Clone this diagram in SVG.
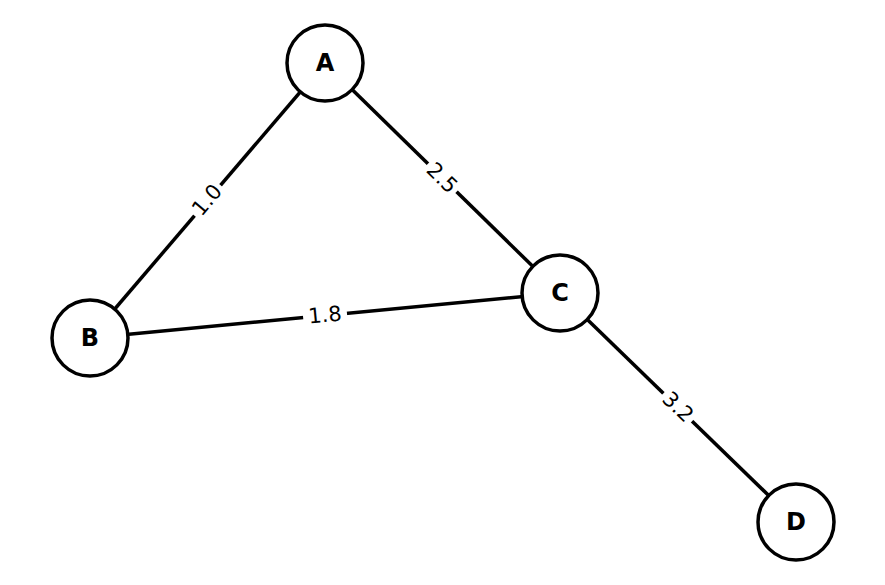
<svg xmlns="http://www.w3.org/2000/svg" width="885" height="585" viewBox="0 0 885 585">
<style>
.e{stroke:#000;stroke-width:3.5;fill:none}
.n{fill:#fff;stroke:#000;stroke-width:3.5}
.nl{font-family:"DejaVu Sans",sans-serif;font-weight:bold;font-size:24px;text-anchor:middle;dominant-baseline:central}
.el{font-family:"DejaVu Sans",sans-serif;font-size:21px;text-anchor:middle;dominant-baseline:central}
.bg{fill:#fff}
</style>
<rect width="885" height="585" fill="#fff"/>
<g id="connectors">
<line class="e" x1="325" y1="63" x2="90" y2="338"/>
<line class="e" x1="325" y1="63" x2="560" y2="293"/>
<line class="e" x1="90" y1="338" x2="560" y2="293"/>
<line class="e" x1="560" y1="293" x2="796" y2="522"/>
<g transform="translate(207,200) rotate(-49.5)"><rect class="bg" x="-20" y="-12" width="40" height="24"/><text class="el">1.0</text></g>
<g transform="translate(442,178) rotate(44.4)"><rect class="bg" x="-20" y="-12" width="40" height="24"/><text class="el">2.5</text></g>
<g transform="translate(325,315) rotate(-5.5)"><rect class="bg" x="-22" y="-12" width="44" height="24"/><text class="el">1.8</text></g>
<g transform="translate(678,407) rotate(44)"><rect class="bg" x="-20" y="-12" width="40" height="24"/><text class="el">3.2</text></g>
</g>
<g id="A"><circle class="n" cx="325" cy="63" r="38"/><text class="nl" x="325" y="63">A</text></g>
<g id="B"><circle class="n" cx="90" cy="338" r="38"/><text class="nl" x="90" y="338">B</text></g>
<g id="C"><circle class="n" cx="560" cy="293" r="38"/><text class="nl" x="560" y="293">C</text></g>
<g id="D"><circle class="n" cx="796" cy="522" r="38"/><text class="nl" x="796" y="522">D</text></g>
</svg>
